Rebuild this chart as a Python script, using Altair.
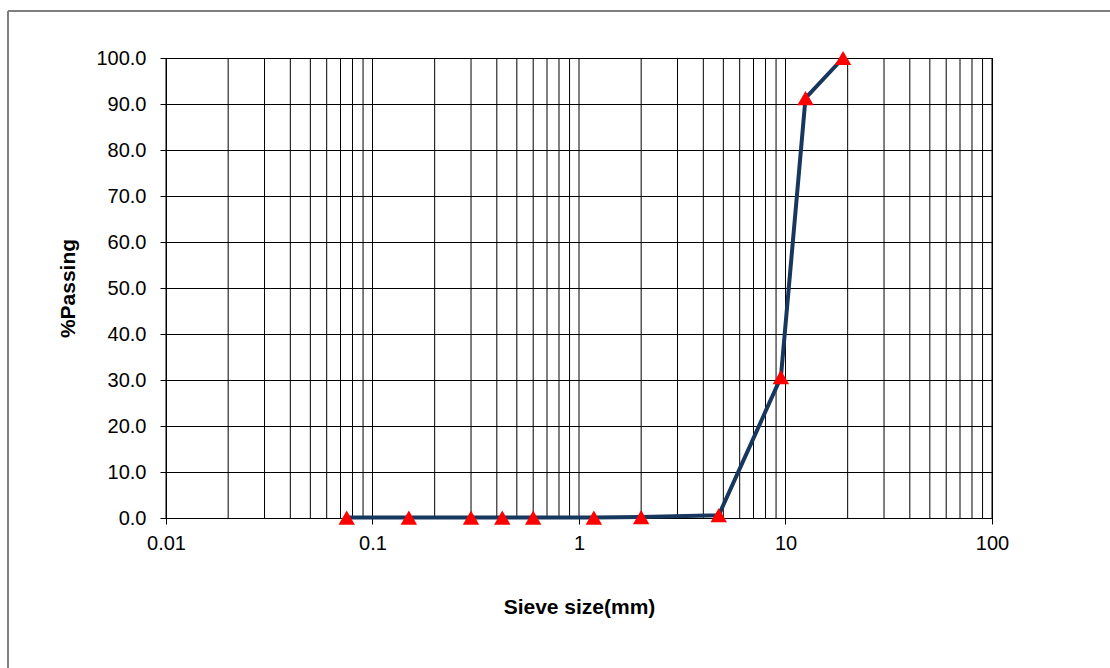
import altair as alt
import pandas as pd

# Data
sieve_mm = [0.075, 0.15, 0.3, 0.425, 0.6, 1.18, 2.0, 4.75, 9.5, 12.5, 19.0]
passing = [0.1, 0.1, 0.1, 0.1, 0.1, 0.1, 0.2, 0.6, 30.6, 91.3, 100.0]

decades = [0.01, 0.1, 1, 10]
multiples = [1, 2, 3, 4, 5, 6, 7, 8, 9]
x_major = [0.01, 0.1, 1, 10, 100]
y_ticks = [0, 10, 20, 30, 40, 50, 60, 70, 80, 90, 100]

df = pd.DataFrame({"size": sieve_mm, "passing": passing})
grid_vals = sorted({round(d * m, 6) for d in decades for m in multiples} | {100})
grid_df = pd.DataFrame({"g": grid_vals})

W, H = 826, 460
PL, PT = 166, 58
FONT = "Liberation Sans"

xscale = alt.Scale(type="log", domain=[0.01, 100], nice=False)
yscale = alt.Scale(domain=[0, 100], nice=False)

x_axis = alt.Axis(values=x_major, format="~g", grid=False, title="Sieve size(mm)",
                  labelPadding=9, labelFlush=False, labelOverlap=False,
                  titleBaseline="middle", titleY=89)
y_axis = alt.Axis(values=y_ticks, format=".1f", grid=True, title="%Passing",
                  labelPadding=14, titleBaseline="middle",
                  titleX=68 - PL, titleY=H / 2, titleAngle=270)

grid = alt.Chart(grid_df).mark_rule(color="#000000", strokeWidth=1).encode(
    x=alt.X("g:Q", scale=xscale, axis=x_axis)
)

line = alt.Chart(df).mark_line(color="#17375E", strokeWidth=4).encode(
    x=alt.X("size:Q", scale=xscale, axis=x_axis),
    y=alt.Y("passing:Q", scale=yscale, axis=y_axis),
)

points = alt.Chart(df).mark_point(shape="triangle-up", filled=True, color="#FF0000",
                                  size=270, opacity=1).encode(
    x=alt.X("size:Q", scale=xscale, axis=x_axis),
    y=alt.Y("passing:Q", scale=yscale, axis=y_axis),
)

border_top = alt.Chart(pd.DataFrame({"k": [0]})).mark_rule(color="#7f7f7f", strokeWidth=2).encode(
    x=alt.value(8 - PL), x2=alt.value(1110 - PL), y=alt.value(11 - PT)
)
border_left = alt.Chart(pd.DataFrame({"k": [0]})).mark_rule(color="#7f7f7f", strokeWidth=2).encode(
    x=alt.value(8 - PL), y=alt.value(11 - PT), y2=alt.value(668 - PT)
)

chart = alt.layer(grid, line, points, border_top, border_left).properties(
    width=W, height=H,
    autosize=alt.AutoSizeParams(type="none"),
    padding={"left": PL, "top": PT, "right": 1110 - PL - W, "bottom": 668 - PT - H},
    background="#ffffff",
).configure_view(stroke="#000000", strokeWidth=1).configure_axis(
    labelFont=FONT, labelFontSize=20, labelColor="#000000",
    titleFont=FONT, titleFontSize=21, titleFontWeight="bold", titleColor="#000000",
    tickSize=6, tickColor="#000000", domainColor="#000000",
    gridColor="#000000", gridOpacity=1, gridWidth=1,
)

chart.save("out.html", embed_options={"renderer": "svg", "actions": False})
